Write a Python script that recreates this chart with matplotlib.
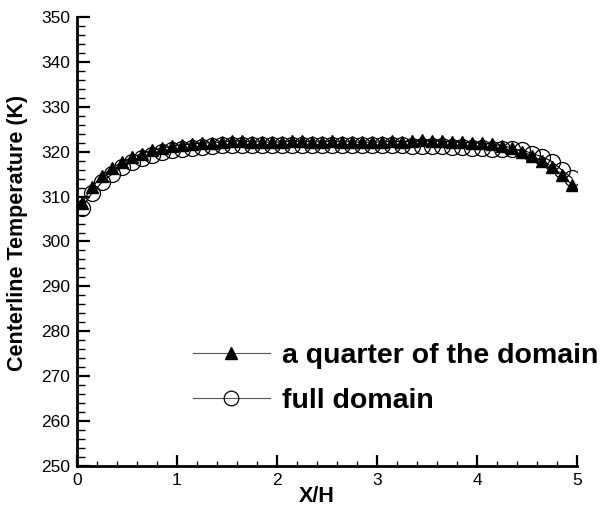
import numpy as np
import matplotlib
matplotlib.use("Agg")
import matplotlib.pyplot as plt
from matplotlib.ticker import MultipleLocator

plt.rcParams['font.family'] = ['Liberation Sans', 'DejaVu Sans']

# Centerline positions (X/H)
x_pos = [0.05, 0.15, 0.25, 0.35, 0.45, 0.55, 0.65, 0.75, 0.85, 0.95,
         1.05, 1.15, 1.25, 1.35, 1.45, 1.55, 1.65, 1.75, 1.85, 1.95,
         2.05, 2.15, 2.25, 2.35, 2.45, 2.55, 2.65, 2.75, 2.85, 2.95,
         3.05, 3.15, 3.25, 3.35, 3.45, 3.55, 3.65, 3.75, 3.85, 3.95,
         4.05, 4.15, 4.25, 4.35, 4.45, 4.55, 4.65, 4.75, 4.85, 4.95]

# Temperature (K), quarter-domain computation
t_quarter = [308.5, 312.1, 314.6, 316.4, 317.7, 318.8, 319.6, 320.3, 320.8, 321.2,
             321.5, 321.7, 321.9, 322.0, 322.2, 322.4, 322.3, 322.2, 322.2, 322.1,
             322.2, 322.3, 322.3, 322.2, 322.2, 322.3, 322.2, 322.2, 322.1, 322.1,
             322.2, 322.3, 322.2, 322.3, 322.5, 322.4, 322.3, 322.2, 322.1, 322.0,
             321.9, 321.7, 321.3, 320.9, 320.0, 319.1, 317.9, 316.7, 314.8, 312.6]

# Temperature (K), full-domain computation
t_full = [307.5, 310.8, 313.2, 315.0, 316.5, 317.7, 318.6, 319.3, 319.9, 320.3,
          320.6, 320.9, 321.1, 321.2, 321.4, 321.5, 321.5, 321.6, 321.6, 321.5,
          321.5, 321.6, 321.6, 321.6, 321.6, 321.5, 321.5, 321.6, 321.5, 321.5,
          321.4, 321.4, 321.4, 321.3, 321.3, 321.2, 321.2, 321.1, 321.0, 320.9,
          320.8, 320.7, 320.6, 320.5, 320.4, 319.6, 318.9, 317.8, 315.9, 314.1]

fig = plt.figure(figsize=(6.0, 5.11), dpi=100)
ax = fig.add_axes([0.1283, 0.0881, 0.8334, 0.8786])

ax.plot(x_pos, t_full, color='black', lw=0.8, marker='o', ms=11.5,
        mfc='none', mec='black', mew=0.9, label='full domain', zorder=2)
ax.plot(x_pos, t_quarter, color='black', lw=0.8, marker='^', ms=9,
        mfc='black', mec='black', label='a quarter of the domain', zorder=3)

ax.set_xlim(0, 5)
ax.set_ylim(250, 350)
ax.xaxis.set_major_locator(MultipleLocator(1))
ax.xaxis.set_minor_locator(MultipleLocator(0.2))
ax.yaxis.set_major_locator(MultipleLocator(10))
ax.yaxis.set_minor_locator(MultipleLocator(2))

for side in ('top', 'right'):
    ax.spines[side].set_visible(False)
for side in ('left', 'bottom'):
    ax.spines[side].set_linewidth(2.0)

ax.tick_params(axis='y', which='major', direction='in', length=9.4, width=1.6,
               labelsize=12.5, pad=5)
ax.tick_params(axis='y', which='minor', direction='in', length=5.8, width=1.0)
ax.tick_params(axis='x', which='major', direction='in', length=8, width=1.6,
               labelsize=12.5, pad=5)
ax.tick_params(axis='x', which='minor', direction='in', length=3.6, width=1.0)

ax.set_xlabel('X/H', fontsize=15.5, fontweight='bold')
ax.set_ylabel('Centerline Temperature (K)', fontsize=15.5, fontweight='bold')
ax.xaxis.set_label_coords(0.48, -0.045)
ax.yaxis.set_label_coords(-0.098, 0.52)

handles, labels = ax.get_legend_handles_labels()
leg = ax.legend(handles[::-1], labels[::-1], loc='center left',
                bbox_to_anchor=(0.232, 0.195), frameon=False,
                handlelength=2.7, handletextpad=0.42,
                labelspacing=0.68, borderpad=0, borderaxespad=0,
                prop={'weight': 'bold', 'size': 20.5})
for line in leg.get_lines():
    line.set_color('#555555')
    line.set_markeredgecolor('black')
leg.get_lines()[0].set_markersize(8)
leg.get_lines()[1].set_markersize(10.5)

fig.savefig('out.png', dpi=100)
